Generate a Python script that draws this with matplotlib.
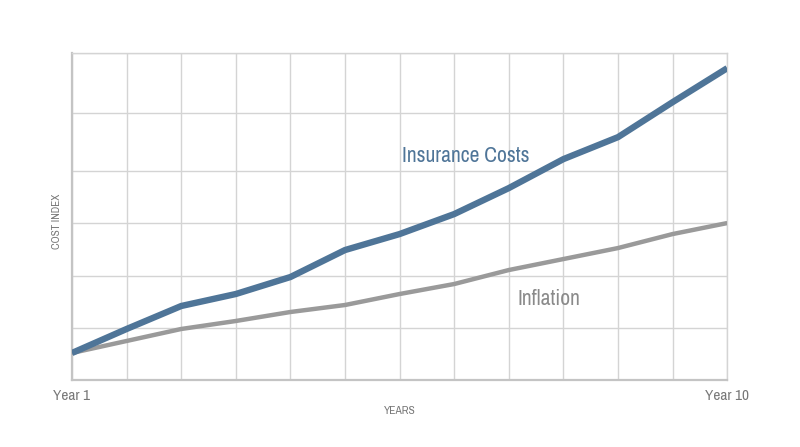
import matplotlib
matplotlib.use("Agg")
import matplotlib.pyplot as plt
from matplotlib import font_manager

names = sorted({f.name for f in font_manager.fontManager.ttflist})
narrow = [n for n in names if ("Narrow" in n or "Condensed" in n)]
FAM = (narrow[:1] + ["Roboto", "DejaVu Sans"])
plt.rcParams['font.family'] = FAM

# data (index units)
periods = list(range(13))
insurance = [27, 51, 74, 86, 103, 130, 146, 166, 192, 221, 243, 278, 312]
inflation = [27, 39, 51, 59, 68, 75, 86, 96, 110, 121, 132, 146, 157]
y_grid = [0, 52, 104, 157, 209, 267, 327]
x_labels = ["Year 1", "Year 10"]

BLUE = "#4f7598"
GRAY = "#9a9a9a"
GRID = "#d4d4d4"

fig = plt.figure(figsize=(8, 4.47), dpi=100)
ax = fig.add_axes([0.09, 0.150, 0.819, 0.731])

ax.plot(periods, inflation, color=GRAY, lw=3.2, solid_capstyle="butt", solid_joinstyle="round", zorder=3)
ax.plot(periods, insurance, color=BLUE, lw=4.6, solid_capstyle="butt", solid_joinstyle="round", zorder=4)

ax.set_xlim(0, 12)
ax.set_ylim(0, 327)
ax.set_xticks(periods)
ax.set_yticks(y_grid)
ax.grid(True, color=GRID, lw=1.0, zorder=0)
ax.tick_params(length=0, labelbottom=False, labelleft=False)
for s in ["top", "right"]:
    ax.spines[s].set_color(GRID)
    ax.spines[s].set_linewidth(1.0)
for s in ["left", "bottom"]:
    ax.spines[s].set_color("#c4c4c4")
    ax.spines[s].set_linewidth(1.6)

big = 15.5 if narrow else 13.5
ax.text(7.22, 224, "Insurance Costs", color=BLUE, fontsize=big, ha="center", va="center")
ax.text(8.74, 81, "Inflation", color="#8a8a8a", fontsize=big, ha="center", va="center")

fig.text(53/800, 1 - 396/447, x_labels[0], color="#777777", fontsize=11, ha="left", va="center")
fig.text(749/800, 1 - 396/447, x_labels[1], color="#777777", fontsize=11, ha="right", va="center")
fig.text(400/800, 1 - 411/447, "YEARS", color="#777777", fontsize=8.3, ha="center", va="center")
fig.text(57/800, 1 - 221/447, "COST INDEX", color="#777777", fontsize=8, ha="center", va="center", rotation=90)

fig.savefig("out.png", dpi=100, facecolor="white")
